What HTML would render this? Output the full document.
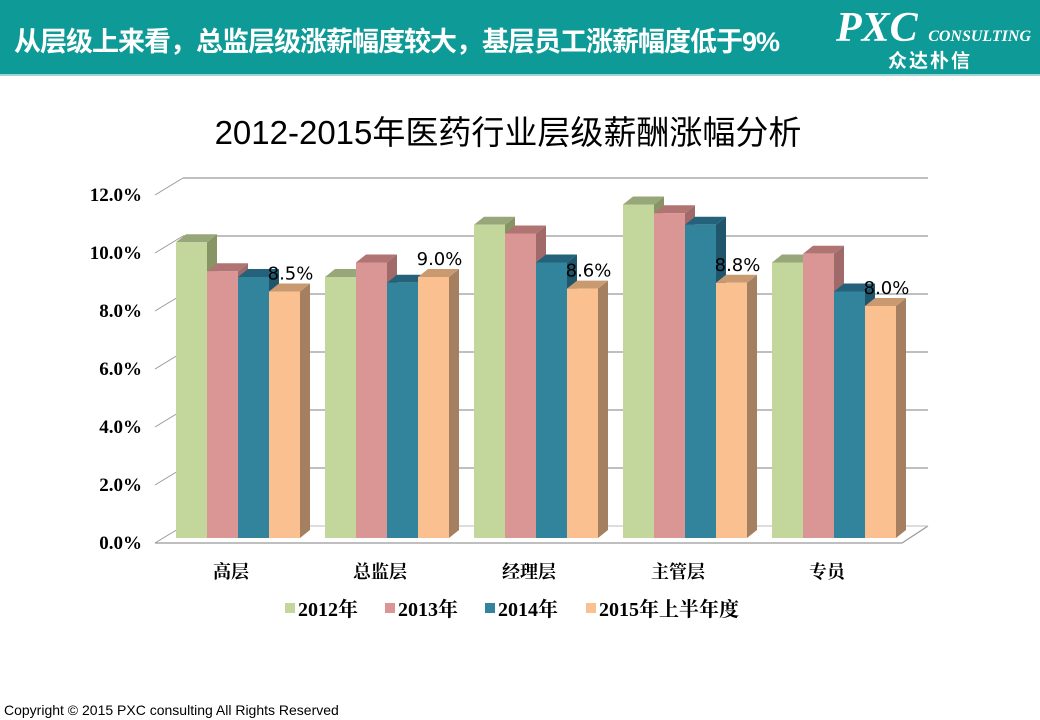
<!DOCTYPE html>
<html><head><meta charset="utf-8">
<style>
body{margin:0;width:1040px;height:720px;background:#fff;position:relative;overflow:hidden;font-family:"Liberation Serif","Noto Serif CJK SC",serif;}
#hdr{position:absolute;left:0;top:0;width:1040px;height:74px;background:#0E9A97;border-bottom:2px solid #9fd3d1;}
#hdr .t{position:absolute;left:14px;top:20px;color:#fff;font:bold 27px "Liberation Sans","Noto Sans CJK SC",sans-serif;letter-spacing:-1px;white-space:nowrap;}
#logo1{position:absolute;left:836px;top:4px;color:#fff;font:italic bold 42px "Liberation Serif",serif;white-space:nowrap;}
#logo1 span{font-size:16px;}
#logo2{position:absolute;left:888px;top:46px;color:#fff;font:bold 19px "Noto Sans CJK SC",sans-serif;letter-spacing:2px;}
#foot{position:absolute;left:4px;top:702px;font:14px "Liberation Sans",sans-serif;color:#000;}
svg{position:absolute;left:0;top:0;}
</style></head><body>
<div id="hdr">
<div class="t">从层级上来看，总监层级涨薪幅度较大，基层员工涨薪幅度低于9%</div>
<div id="logo1">PXC <span>CONSULTING</span></div>
<div id="logo2">众达朴信</div>
</div>
<svg id="chart" width="1040" height="720"></svg>
<div id="foot">Copyright © 2015 PXC consulting All Rights Reserved</div>
<script>
const categories=["高层","总监层","经理层","主管层","专员"];
const s2012=[10.2,9.0,10.8,11.5,9.5];
const s2013=[9.2,9.5,10.5,11.2,9.8];
const s2014=[9.0,8.8,9.5,10.8,8.5];
const s2015=[8.5,9.0,8.6,8.8,8.0];
const seriesNames=["2012年","2013年","2014年","2015年上半年度"];
const yTicks=[0,2,4,6,8,10,12];
const yTickLabels=["0.0%","2.0%","4.0%","6.0%","8.0%","10.0%","12.0%"];

const NS="http://www.w3.org/2000/svg";
const svg=document.getElementById('chart');
function mk(tag,a,parent){const e=document.createElementNS(NS,tag);for(const k in a)e.setAttribute(k,a[k]);(parent||svg).appendChild(e);return e;}
const base=538,pp=29;
const y=v=>base-v*pp;
const gx0=176,gstep=149,bw=31;
const front=["#C3D69B","#D99694","#31849B","#FAC090"];
const topc=["#97A77A","#B07473","#23627A","#C99A70"];
const side=["#879565","#A0696A","#1F566B","#A58060"];
const series=[s2012,s2013,s2014,s2015];

let t=mk('text',{x:508,y:144,'text-anchor':'middle','font-size':33,'font-family':'"Liberation Sans","Noto Sans CJK SC",sans-serif'});
t.textContent="2012-2015年医药行业层级薪酬涨幅分析";



yTicks.forEach((v,i)=>{
  const yy=y(v)+5;
  const g=mk('g',{});
  
  
  if(i>0) mk('line',{x1:183,y1:yy-17,x2:928,y2:yy-17,stroke:'#999','stroke-width':1.2},g);
  mk('line',{x1:155,y1:yy,x2:183,y2:yy-17,stroke:'#999','stroke-width':1},g);
  const l=mk('text',{x:142,y:yy+6,'text-anchor':'end','font-size':19,'font-weight':'bold'});
  l.textContent=yTickLabels[i];
  
  
});
const fl=mk('polyline',{points:`155,${y(0)+5} 902,${y(0)+5} 928,${y(0)-12}`,fill:'none',stroke:'#999','stroke-width':1.2});


const bk=mk('line',{x1:183,y1:y(0)-12,x2:928,y2:y(0)-12,stroke:'#bbb','stroke-width':1});



const ddx=10,ddy=-8;
categories.forEach((c,ci)=>{
  for(let si=0;si<4;si++){
    const v=series[si][ci];
    const x0=gx0+ci*gstep+si*bw, yt=y(v);
    const g=mk('g',{});
    
    
    mk('polygon',{points:`${x0+bw},${base} ${x0+bw},${yt} ${x0+bw+ddx},${yt+ddy} ${x0+bw+ddx},${base+ddy}`,fill:side[si]},g);
    mk('polygon',{points:`${x0},${yt} ${x0+ddx},${yt+ddy} ${x0+bw+ddx},${yt+ddy} ${x0+bw},${yt}`,fill:topc[si]},g);
    mk('rect',{x:x0,y:yt,width:bw,height:base-yt,fill:front[si]},g);
    if(si===3){
      const lb=mk('text',{x:x0+bw/2+6,y:yt-12,'text-anchor':'middle','font-size':18,'font-family':'"DejaVu Sans",sans-serif'});
      lb.textContent=v.toFixed(1)+"%";
      
      
    }
  }
  const cl=mk('text',{x:gx0+ci*gstep+55,y:578,'text-anchor':'middle','font-size':18,'font-weight':'bold','font-family':'"Noto Serif CJK SC",serif'});
  cl.textContent=c;
  
  
});

const lx=[285,385,485,586];
seriesNames.forEach((n,i)=>{
  const g=mk('g',{});
  
  
  mk('rect',{x:lx[i],y:603,width:10,height:10,fill:front[i]},g);
  const tx=mk('text',{x:lx[i]+13,y:616,'font-size':20,'font-weight':'bold','font-family':'"Liberation Serif","Noto Serif CJK SC",serif'},g);
  tx.textContent=n;
});
</script>
</body></html>
